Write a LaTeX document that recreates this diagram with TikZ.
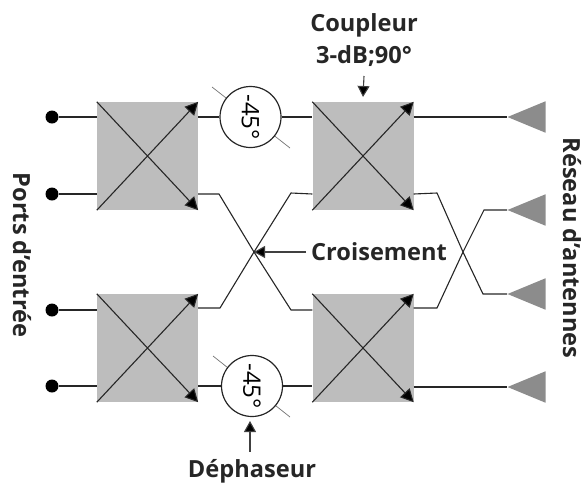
\documentclass[tikz,border=0pt]{standalone}
\usepackage{fontspec}
\setmainfont{Open Sans}
\usepackage{tikz}
\usetikzlibrary{arrows.meta,shapes.geometric}

\tikzset{
    coupler/.style={rectangle,fill=black!26,minimum width=101pt,minimum height=108pt,inner sep=0pt},
    port/.style={circle,fill=black,minimum size=13pt,inner sep=0pt},
    phase/.style={circle,draw=black!85,line width=1.2pt,fill=white,minimum size=61pt,inner sep=0pt,rotate=-90,font=\fontsize{24}{24}\selectfont},
    antenna/.style={isosceles triangle,isosceles triangle apex angle=45,fill=black!45,minimum height=38pt,minimum width=31pt,inner sep=0pt,shape border rotate=180},
    wire/.style={draw=black!85,line width=1.1pt},
    tipped/.style={wire,-{Triangle[length=13pt,width=13pt,fill=black]}},
    pointer/.style={draw=black!75,line width=1.1pt,-{Triangle[length=11pt,width=12pt,fill=black]}},
    caption/.style={font=\bfseries\fontsize{23.6}{23.6}\selectfont,text=black!85,inner sep=0pt}
}

\begin{document}
\begin{tikzpicture}[x=1pt,y=-1pt]
    \useasboundingbox (0,0) rectangle (584,483);

    % couplers
    \node [coupler] (c1) at (147.5,156) {};
    \node [coupler] (c2) at (363,156) {};
    \node [coupler] (c3) at (147.5,348) {};
    \node [coupler] (c4) at (363,348) {};
    \foreach \c in {c1,c2,c3,c4} {
        \draw [tipped] (\c.north west) -- (\c.south east);
        \draw [tipped] (\c.south west) -- (\c.north east);
    }

    % input ports
    \node [port] (p1) at (52,117) {};
    \node [port] (p2) at (52,194) {};
    \node [port] (p3) at (52,310) {};
    \node [port] (p4) at (52,386) {};
    \foreach \p/\c in {p1/c1,p2/c1,p3/c3,p4/c3}
        \draw [wire] (\p) -- (\p -| \c.west);

    % phase shifters
    \coordinate (s1a) at (212,87);
    \coordinate (s1b) at (290,148);
    \coordinate (s2a) at (213,356);
    \coordinate (s2b) at (290,417);
    \draw [draw=black!55,line width=0.7pt] (s1a) -- (s1b);
    \draw [draw=black!55,line width=0.7pt] (s2a) -- (s2b);
    \node [phase] (d1) at (250.5,117) {-45°};
    \node [phase] (d2) at (252,386) {-45°};
    \draw [wire] (c1.east |- d1) -- (d1);
    \draw [wire] (d1) -- (c2.west |- d1);
    \draw [wire] (c3.east |- d2) -- (d2);
    \draw [wire] (d2) -- (c4.west |- d2);

    % antennas
    \node [antenna,anchor=apex] (a1) at (507,117) {};
    \node [antenna,anchor=apex] (a2) at (507,210) {};
    \node [antenna,anchor=apex] (a3) at (507,294) {};
    \node [antenna,anchor=apex] (a4) at (507,387) {};
    \draw [wire] (c2.east |- a1) -- (a1.apex);
    \draw [wire] (c4.east |- a4) -- (a4.apex);

    % crossings
    \coordinate (x1) at (254,252);
    \draw [wire] (c1.east |- p2) -- (219,194) -- (x1) -- (291,310) -- (c4.west |- p3);
    \draw [wire] (c3.east |- 0,308) -- (220,308) -- (x1) -- (291,193) -- (c2.west |- p2);
    \coordinate (x2) at (463,252);
    \draw [wire] (c2.east |- p2) -- (437,193) -- (x2) -- (483,294) -- (a3.apex);
    \draw [wire] (c4.east |- 0,308) -- (437,308) -- (x2) -- (484,210) -- (a2.apex);

    % labels
    \node [caption] (coup) at (364,25) {Coupleur};
    \node [caption] (db) at (364,56) {3-dB;90°};
    \node [caption,anchor=west] (crois) at (311,252) {Croisement};
    \node [caption] (deph) at (252,471) {Déphaseur};
    \node [caption,rotate=-90] (ports) at (22,255) {Ports d'entrée};
    \node [caption,rotate=-90] (res) at (572,248) {Réseau d'antennes};
    \draw [pointer] (db.south |- 0,76) -- (c2.north |- 0,97);
    \draw [pointer] (crois.west) ++(-5,0) -- (x1);
    \draw [pointer] (deph.north -| d2) ++(-2,-7) -- (250,421);
\end{tikzpicture}
\end{document}
